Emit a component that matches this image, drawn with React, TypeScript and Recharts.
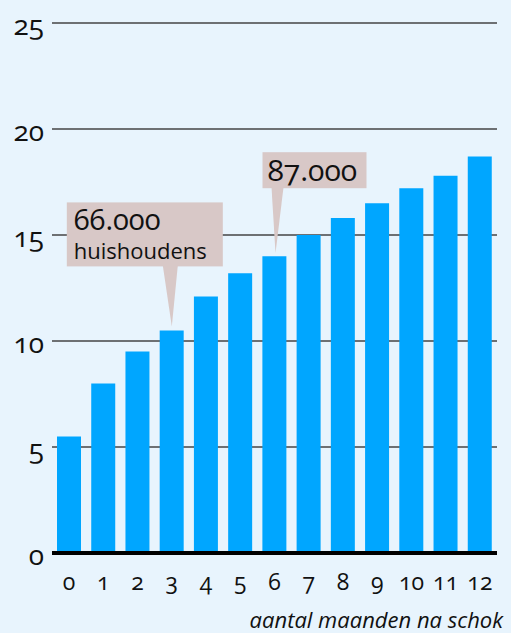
import { BarChart, Bar, XAxis, YAxis, CartesianGrid, ReferenceDot } from "recharts"

const maanden = [0, 1, 2, 3, 4, 5, 6, 7, 8, 9, 10, 11, 12]
const waarden = [5.5, 8.0, 9.5, 10.5, 12.1, 13.2, 14.0, 15.0, 15.8, 16.5, 17.2, 17.8, 18.7]
const yTicks = [0, 5, 10, 15, 20, 25]

const data = maanden.map((m, i) => ({ maand: m, waarde: waarden[i] }))

const font = "'Open Sans', 'Noto Sans', sans-serif"
const oldstyle = { fontVariantNumeric: "oldstyle-nums" } as const
const boxColor = "#d8c8c7"

function CalloutHuishoudens(props: any) {
  const { cx, cy } = props
  if (cx == null || cy == null) return null
  const left = cx - 105
  const top = cy - 128
  return (
    <g>
      <rect x={left} y={top} width={156} height={64} fill={boxColor} />
      <polygon points={`${cx - 9},${top + 63} ${cx + 6},${top + 63} ${cx},${cy - 4}`} fill={boxColor} />
      <text x={left + 7} y={top + 28} fontSize={29} fill="#111" fontFamily={font} style={oldstyle}>
        66.000
      </text>
      <text x={left + 7} y={top + 57} fontSize={22} fill="#111" fontFamily={font}>
        huishoudens
      </text>
    </g>
  )
}

function CalloutTotaal(props: any) {
  const { cx, cy } = props
  if (cx == null || cy == null) return null
  const left = cx - 12
  const top = cy - 104
  return (
    <g>
      <rect x={left} y={top} width={104} height={36} fill={boxColor} />
      <polygon points={`${cx - 3},${top + 35} ${cx + 9},${top + 35} ${cx + 1},${cy - 3}`} fill={boxColor} />
      <text x={left + 5} y={top + 29} fontSize={30} fill="#111" fontFamily={font} style={oldstyle}>
        87.000
      </text>
    </g>
  )
}

function XLabel(props: any) {
  const { viewBox } = props
  if (!viewBox) return null
  return (
    <text
      x={viewBox.x + viewBox.width + 6}
      y={viewBox.y + 75}
      textAnchor="end"
      fontSize={22}
      fontStyle="italic"
      fill="#111"
      fontFamily={font}
    >
      aantal maanden na schok
    </text>
  )
}

export default function App() {
  return (
    <div style={{ position: "absolute", left: 0, top: 0, width: 511, height: 633, background: "#e8f4fd" }}>
      <BarChart width={511} height={633} data={data} margin={{ top: 23, right: 14, bottom: 0, left: 0 }}>
        <CartesianGrid vertical={false} stroke="#444" strokeWidth={1.3} />
        <XAxis
          dataKey="maand"
          height={80}
          axisLine={{ stroke: "#000", strokeWidth: 4 }}
          tickLine={false}
          tickMargin={15}
          interval={0}
          tick={{ fill: "#111", fontSize: 23, fontFamily: font, style: oldstyle }}
          label={<XLabel />}
        />
        <YAxis
          width={52}
          domain={[0, 25]}
          ticks={yTicks}
          axisLine={false}
          tickLine={false}
          tick={{ fill: "#111", fontSize: 28, fontFamily: font, style: oldstyle, dy: 2 }}
        />
        <Bar dataKey="waarde" fill="#00a6ff" barSize={24} isAnimationActive={false} />
        <ReferenceDot x={3} y={waarden[3]} shape={CalloutHuishoudens} />
        <ReferenceDot x={6} y={waarden[6]} shape={CalloutTotaal} />
      </BarChart>
    </div>
  )
}
